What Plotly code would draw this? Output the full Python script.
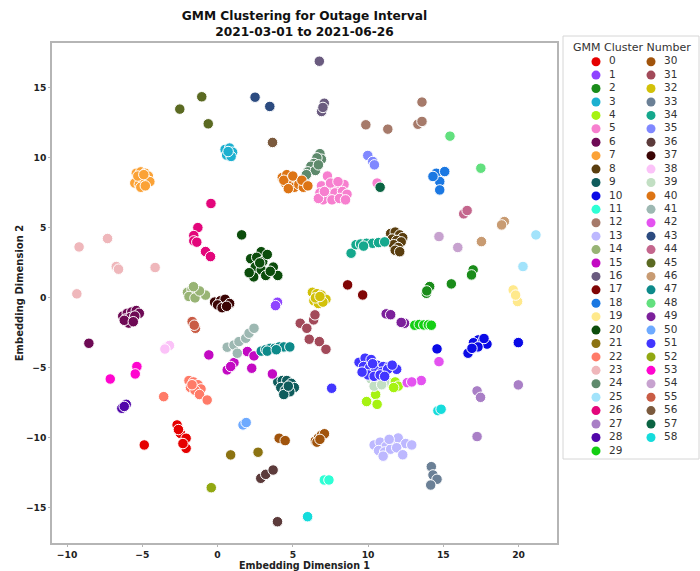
import plotly.graph_objects as go

W, H = 700, 571

cluster_labels = [str(i) for i in range(59)]

cluster_colors = [
    "#e50000", "#8f45ff", "#1a8c1a", "#1cb0d0", "#a6f212", "#f77fcf", "#6e0a55", "#fba236",
    "#5a3e0f", "#0f5c5c", "#0a0ae6", "#2effd5", "#a67a6a", "#bdb8ff", "#98b475", "#c30ac3",
    "#6a5b7f", "#800505", "#1b78e2", "#ffe98c", "#0c4d0c", "#8c7312", "#ff7b68", "#efb7bb",
    "#5e8a6c", "#a2e3fb", "#e3067b", "#a97fc6", "#5106aa", "#14cf14", "#a1540c", "#a24a5a",
    "#d2c108", "#6b8096", "#15a88d", "#8088ff", "#5c3b3b", "#3b0505", "#fbc2f8", "#c2dfc3",
    "#dd7414", "#9db8b2", "#e452f0", "#2c4b80", "#c4668d", "#5b6a22", "#c89b72", "#0d8a8a",
    "#62e07e", "#7c209b", "#6eaaff", "#4236ff", "#92a812", "#ff05cf", "#c7a2cf", "#c95c45",
    "#7b5a3d", "#0b6443", "#15dcdc",
]

# Embedding Dimension 1 values, one list per cluster
x_values = [
    [-4.87, -2.69, -2.47, -2.09, -2.09, -2.3, -2.6],                                  # 0
    [3.98, 3.85],                                                                      # 1
    [16.98, 16.87, 13.87, 14.09, 15.53, 13.9],                                         # 2
    [0.5, 0.8, 1.0, 0.6, 0.9, 0.7],                                                    # 3
    [11.5, 11.8, 12.0, 10.5, 9.9, 10.6, 11.7],                                         # 4
    [7.3, 6.9, 7.4, 7.9, 8.4, 6.8, 7.3, 7.8, 8.3, 8.6, 7.0, 7.6, 8.1, 6.7, 7.1, 7.5, 8.0, 8.5, 10.6],  # 5
    [-6.3, -6.0, -5.7, -5.4, -5.2, -6.1, -5.8, -5.5, -5.9, -6.2, -5.6, -8.55],         # 6
    [-5.4, -5.1, -4.8, -4.6, -5.3, -5.0, -4.7, -5.5, -5.2, -4.9, -4.5, -5.1, -4.8, -5.3, -4.9],  # 7
    [11.5, 11.8, 12.1, 12.3, 11.6, 11.9, 12.2, 11.7, 12.0, 11.8, 12.1],                # 8
    [4.0, 4.3, 4.6, 4.9, 5.1, 4.2, 4.5, 4.8, 4.4, 4.7],                                # 9
    [17.31, 17.0, 17.6, 17.9, 17.3, 17.7, 16.64, 16.9, 14.58, 19.98],                  # 10
    [7.09, 7.4],                                                                       # 11
    [13.58, 9.85, 11.31, 13.31, 13.58],                                                # 12
    [10.4, 10.8, 11.2, 11.6, 12.0, 12.5, 12.9, 10.7, 11.1, 11.5, 11.9, 12.3, 11.4, 11.0],  # 13
    [-2.0, -1.7, -1.4, -1.1, -0.8, -1.9, -1.5, -1.2, -1.6],                            # 14
    [-0.58, 0.64, 1.09, 0.87, 1.98, 2.42, 2.27, 3.64],                                 # 15
    [6.76, 6.91, 7.09, 7.0],                                                           # 16
    [8.64, 9.64],                                                                      # 17
    [14.53, 14.76, 14.76, 15.09, 14.31],                                               # 18
    [19.64, 19.93, 19.8],                                                              # 19
    [1.6, 2.9, 2.2, 2.6, 3.0, 3.3, 2.5, 2.9, 3.7, 4.0, 2.4, 3.2, 3.5, 2.8, 2.1],       # 20
    [0.87, 2.69],                                                                      # 21
    [-3.58, -1.9, -1.6, -1.3, -1.1, -1.8, -1.5, -1.2, -1.7, -0.69],                    # 22
    [-9.2, -7.31, -6.73, -6.58, -4.15, -9.35],                                         # 23
    [6.8, 6.9, 6.6, 6.4, 6.2, 6.0, 5.8, 6.5, 6.7, 5.9],                                # 24
    [21.15, 20.29],                                                                    # 25
    [-0.44, -1.31, -1.58, -1.58, -1.38, -0.8, -0.47],                                  # 26
    [17.24, 17.47, 19.98, 17.24],                                                      # 27
    [-6.36, -6.07, -6.2],                                                              # 28
    [13.1, 13.4, 13.7, 14.0, 14.2],                                                    # 29
    [4.09, 4.49, 6.5, 6.7, 6.9, 7.1, 6.6, 6.8],                                        # 30
    [5.49, 5.93, 6.38, 6.47, 6.09, 6.76, 7.2],                                         # 31
    [6.3, 6.6, 6.9, 7.2, 6.4, 6.7, 7.0, 6.5, 6.8],                                     # 32
    [14.2, 14.31, 14.58, 14.16],                                                       # 33
    [8.87, 9.2, 9.5, 9.9, 10.3, 10.7, 11.1, 9.7],                                      # 34
    [9.98, 10.31, 10.42],                                                              # 35
    [2.87, 3.2, 3.69, 3.98],                                                           # 36
    [-0.2, 0.2, 0.5, 0.8, 0.0, 0.3, 0.6],                                              # 37
    [-3.4, -3.2, -3.5],                                                                # 38
    [10.2, 10.5, 10.8, 11.1, 10.4, 10.9],                                              # 39
    [4.3, 4.6, 4.9, 5.2, 4.5, 4.8, 5.1, 5.4, 5.7, 4.4, 5.0, 5.6, 6.0, 4.7],            # 40
    [0.64, 1.09, 1.42, 1.87, 2.09, 2.42, 1.31],                                        # 41
    [14.71, 12.6, 13.53, 12.9],                                                        # 42
    [2.49, 3.47],                                                                      # 43
    [16.35, 16.58],                                                                    # 44
    [-2.51, -1.05, -0.62],                                                             # 45
    [19.05, 18.87, 17.53],                                                             # 46
    [2.9, 3.2, 3.5, 3.8, 4.1, 4.4, 4.8, 3.3, 3.9],                                     # 47
    [15.44, 17.49],                                                                    # 48
    [11.2, 11.5, 12.42, 12.2],                                                         # 49
    [1.69, 1.9],                                                                       # 50
    [9.4, 9.8, 10.2, 10.6, 11.0, 11.4, 11.9, 9.7, 10.1, 10.5, 10.9, 11.3, 10.0, 10.4,
     10.8, 11.6, 9.6, 10.3, 11.1, 7.58],                                               # 51
    [-0.42],                                                                           # 52
    [-5.36, -5.47, -7.13],                                                             # 53
    [14.71, 15.96],                                                                    # 54
    [-1.69, -1.47, -1.55],                                                             # 55
    [3.65],                                                                            # 56
    [10.8],                                                                            # 57
    [14.64, 14.85, 5.98],                                                              # 58
]

# Embedding Dimension 2 values, one list per cluster
y_values = [
    [-10.5, -9.07, -9.67, -10.02, -10.74, -10.4, -9.4],
    [-0.31, -0.55],
    [2.0, 1.64, 0.33, 0.81, 1.0, 0.5],
    [10.6, 10.7, 10.4, 10.2, 10.1, 10.45],
    [-6.1, -6.0, -6.3, -6.9, -7.4, -7.6, -6.4],
    [8.7, 8.0, 7.8, 7.9, 8.1, 7.5, 7.4, 7.5, 7.6, 7.4, 7.0, 7.0, 7.1, 7.1, 7.6, 8.2, 8.3, 7.0, 8.2],
    [-1.3, -1.1, -1.0, -0.9, -1.1, -1.5, -1.4, -1.3, -1.8, -1.6, -1.7, -3.24],
    [8.9, 9.0, 8.9, 8.7, 8.5, 8.6, 8.4, 8.2, 8.1, 8.2, 8.3, 7.9, 8.0, 8.7, 8.8],
    [4.6, 4.7, 4.5, 4.3, 4.2, 4.1, 4.0, 3.8, 3.6, 3.4, 3.3],
    [-6.0, -5.9, -5.9, -6.1, -6.4, -6.4, -6.6, -6.7, -6.9, -6.3],
    [-3.0, -3.2, -3.1, -3.3, -3.5, -2.9, -3.95, -3.6, -3.64, -3.19],
    [-13.0, -13.0],
    [13.98, 12.36, 12.05, 12.4, 12.6],
    [-10.5, -10.3, -10.6, -10.2, -10.0, -10.4, -10.5, -10.9, -11.0, -10.8, -10.7, -11.2, -10.1, -11.3],
    [0.4, 0.6, 0.3, 0.3, 0.2, 0.1, 0.0, 0.5, 0.8],
    [-4.07, -5.14, -4.62, -4.9, -3.83, -4.14, -5.02, -5.43],
    [16.9, 13.31, 13.9, 13.6],
    [0.93, 0.21],
    [8.9, 8.31, 7.71, 9.02, 8.67],
    [0.57, -0.26, 0.2],
    [4.5, 3.3, 2.8, 2.9, 2.6, 3.1, 2.2, 2.0, 2.2, 1.6, 1.5, 1.6, 1.9, 2.5, 1.8],
    [-11.21, -11.02],
    [-7.05, -5.9, -6.0, -6.2, -6.5, -6.4, -6.6, -6.9, -6.2, -7.29],
    [3.64, 4.24, 2.24, 2.05, 2.17, 0.29],
    [10.3, 9.9, 10.0, 9.6, 9.4, 9.0, 8.6, 9.1, 9.5, 8.8],
    [4.5, 2.24],
    [6.74, 5.02, 4.45, 4.07, 3.98, 3.31, 2.95],
    [-6.64, -7.1, -6.21, -9.9],
    [-7.88, -7.6, -7.75],
    [-1.95, -1.9, -1.93, -1.92, -1.95],
    [-10.02, -10.19, -10.2, -10.0, -9.8, -9.7, -10.3, -10.1],
    [-1.81, -2.17, -1.57, -1.21, -2.95, -3.12, -3.67],
    [0.4, 0.3, 0.2, -0.1, -0.2, -0.4, -0.3, 0.0, 0.1],
    [-12.05, -12.64, -12.95, -13.36],
    [3.19, 3.8, 3.85, 3.9, 3.9, 3.95, 4.0, 3.7],
    [10.17, 9.74, 9.5],
    [-12.88, -12.6, -12.29, -15.98],
    [-0.3, -0.2, -0.1, -0.4, -0.5, -0.7, -0.6],
    [-3.52, -3.4, -3.65],
    [-5.8, -6.0, -5.7, -6.0, -6.3, -6.2],
    [8.6, 8.8, 8.5, 8.3, 8.2, 8.0, 7.9, 8.1, 7.9, 8.4, 8.7, 8.4, 8.0, 7.8],
    [-3.52, -3.36, -3.12, -2.88, -2.52, -2.17, -3.95],
    [-4.55, -6.05, -5.9, -6.0],
    [14.33, 13.67],
    [6.0, 6.24],
    [13.48, 14.36, 12.43],
    [5.45, 5.21, 4.02],
    [-3.8, -3.7, -3.6, -3.6, -3.5, -3.5, -3.5, -3.8, -3.7],
    [11.55, 9.26],
    [-1.14, -1.2, -1.81, -1.75],
    [-9.07, -8.9],
    [-4.6, -4.3, -4.4, -4.8, -4.9, -4.9, -5.1, -4.9, -5.0, -5.2, -5.3, -5.1, -5.5, -5.6,
     -5.5, -4.8, -5.3, -4.7, -5.6, -6.45],
    [-13.55],
    [-4.9, -5.43, -5.79],
    [4.38, 3.6],
    [-1.69, -2.17, -1.95],
    [11.1],
    [7.9],
    [-8.05, -7.95, -15.62],
]

x_ticks = [-10, -5, 0, 5, 10, 15, 20]
y_ticks = [-15, -10, -5, 0, 5, 10, 15]
x_range = [-11.0, 22.55]
y_range = [-17.5, 18.2]

# ---- layout geometry (pixels) ----
PL, PR, PT, PB = 52, 557, 43, 543
dom_x = [PL / W, PR / W]
dom_y = [1 - PB / H, 1 - PT / H]
LL, LR, LT, LB = 563, 699, 36, 459   # legend box

fig = go.Figure()

for i in range(59):
    fig.add_trace(go.Scatter(
        x=x_values[i], y=y_values[i], mode="markers", name=cluster_labels[i],
        marker=dict(size=10.5, color=cluster_colors[i], line=dict(color="white", width=1)),
        showlegend=False, xaxis="x", yaxis="y",
    ))

# ---- manual two-column legend drawn in its own pixel-space axis ----
row0, row_step = 61.7, 13.42
col_marker = [596, 651]
col_text = [609, 664]
leg_mx, leg_my, leg_tx, leg_ty = [], [], [], []
for i in range(59):
    col = 0 if i < 30 else 1
    row = i if i < 30 else i - 30
    leg_mx.append(col_marker[col])
    leg_my.append(row0 + row * row_step)
    leg_tx.append(col_text[col])
    leg_ty.append(row0 + row * row_step)

fig.add_trace(go.Scatter(
    x=leg_mx, y=leg_my, mode="markers", xaxis="x2", yaxis="y2",
    marker=dict(size=9, color=cluster_colors, line=dict(width=0)),
    showlegend=False, hoverinfo="skip", cliponaxis=False,
))
fig.add_trace(go.Scatter(
    x=leg_tx, y=leg_ty, mode="text", text=cluster_labels, textposition="middle right",
    textfont=dict(family="DejaVu Sans", size=10.5, color="#333333"),
    xaxis="x2", yaxis="y2", showlegend=False, hoverinfo="skip", cliponaxis=False,
))

axis_common = dict(
    showgrid=False, zeroline=False, showline=True, mirror=True,
    linecolor="#b5b5b5", linewidth=1.5, ticks="outside", ticklen=2, tickwidth=1,
    tickcolor="#b5b5b5",
    tickfont=dict(family="DejaVu Sans", size=9.2, color="#222222", weight="bold"),
)

fig.update_layout(
    width=W, height=H,
    margin=dict(l=0, r=0, t=0, b=0),
    paper_bgcolor="white", plot_bgcolor="rgba(0,0,0,0)",
    title=dict(
        text="<b>GMM Clustering for Outage Interval</b><br><b>2021-03-01 to 2021-06-26</b>",
        x=(PL + PR) / 2 / W, xanchor="center", y=1 - 20 / H, yanchor="middle",
        font=dict(family="DejaVu Sans", size=12.2, color="#111111"),
    ),
    xaxis=dict(
        domain=dom_x, range=x_range, tickvals=x_ticks,
        ticktext=[str(v).replace("-", "\u2212") for v in x_ticks],
        title=dict(text="<b>Embedding Dimension 1</b>", standoff=4,
                   font=dict(family="DejaVu Sans", size=9.6, color="#222222")),
        anchor="y", **axis_common,
    ),
    yaxis=dict(
        domain=dom_y, range=y_range, tickvals=y_ticks,
        ticktext=[str(v).replace("-", "\u2212") for v in y_ticks],
        title=dict(text="<b>Embedding Dimension 2</b>", standoff=0,
                   font=dict(family="DejaVu Sans", size=10, color="#222222")),
        anchor="x", **axis_common,
    ),
    xaxis2=dict(domain=[LL / W, LR / W], range=[LL, LR], visible=False, anchor="y2", fixedrange=True),
    yaxis2=dict(domain=[1 - LB / H, 1 - LT / H], range=[LB, LT], visible=False, anchor="x2", fixedrange=True),
    shapes=[dict(
        type="rect", xref="paper", yref="paper",
        x0=LL / W, x1=LR / W, y0=1 - LB / H, y1=1 - LT / H,
        line=dict(color="#d6d6d6", width=1), fillcolor="rgba(0,0,0,0)", layer="above",
    )],
    annotations=[dict(
        text="GMM Cluster Number", xref="paper", yref="paper",
        x=632 / W, y=1 - 47 / H, xanchor="center", yanchor="middle", showarrow=False,
        font=dict(family="DejaVu Sans", size=11, color="#333333"),
    )],
)

fig.write_html(
    "out.html",
    config={"displayModeBar": False},
    post_script="document.body.style.margin='0px';document.body.style.padding='0px';"
                "document.body.style.overflow='hidden';",
)
